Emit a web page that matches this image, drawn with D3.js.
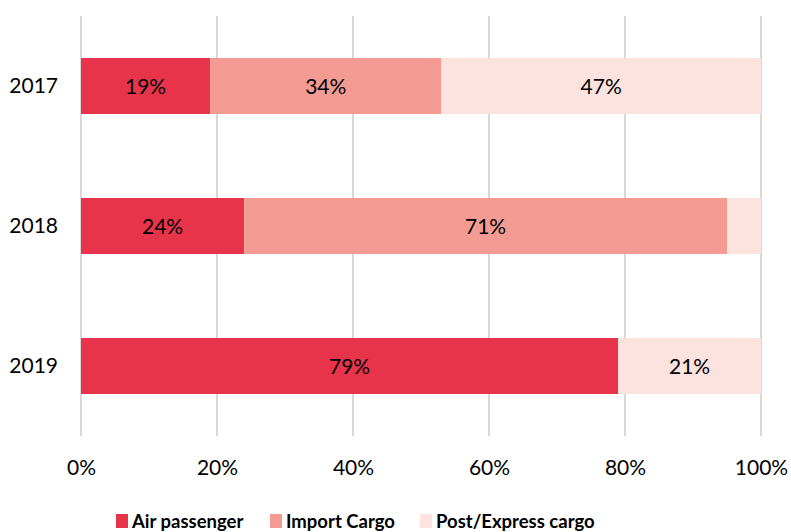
<!DOCTYPE html>
<html>
<head>
<meta charset="utf-8">
<script src="https://cdn.jsdelivr.net/npm/d3@7"></script>
<style>
  body { margin: 0; background: #fff; }
  svg text { font-family: Lato, "Open Sans", sans-serif; fill: #000; }
</style>
</head>
<body>
<svg id="chart" width="791" height="532"></svg>
<script>
// data
const years = ["2017", "2018", "2019"];
const seriesNames = ["Air passenger", "Import Cargo", "Post/Express cargo"];
const airPassenger = [19, 24, 79];
const importCargo = [34, 71, 0];
const postExpress = [47, 5, 21];
const xTicks = [0, 20, 40, 60, 80, 100];
const colors = ["#e8344a", "#f39b92", "#fce3df"];

let svg = d3.select("#chart"),
    plotLeft = 81, plotRight = 761, plotTop = 16, plotBottom = 436,
    fontSize = "21px";

let rows = years.map((y, i) => ({
    year: y,
    "Air passenger": airPassenger[i],
    "Import Cargo": importCargo[i],
    "Post/Express cargo": postExpress[i]
}));

let x = d3.scaleLinear().domain([0, 100]).range([plotLeft, plotRight]);
let y = d3.scaleBand().domain(years).range([plotTop, plotBottom])
    .paddingInner(0.6).paddingOuter(0.3);
let color = d3.scaleOrdinal().domain(seriesNames).range(colors);

// grid lines
svg.append("g").selectAll("line").data(xTicks).enter().append("line")
    .attr("x1", d => x(d)).attr("x2", d => x(d))
    .attr("y1", plotTop).attr("y2", plotBottom)
    .attr("stroke", "#d9d9d9").attr("stroke-width", 2);

// x labels
let xAxis = svg.append("g").attr("transform", "translate(0," + plotBottom + ")")
    .call(d3.axisBottom(x).tickValues(xTicks).tickFormat(d => d + "%").tickSize(0).tickPadding(24));
xAxis.select(".domain").remove();
xAxis.attr("font-family", null).attr("font-size", null);
xAxis.selectAll("text").style("font-size", fontSize);

// y labels
let yAxis = svg.append("g").attr("transform", "translate(" + plotLeft + ",0)")
    .call(d3.axisLeft(y).tickSize(0).tickPadding(23));
yAxis.select(".domain").remove();
yAxis.attr("font-family", null).attr("font-size", null);
yAxis.selectAll("text").style("font-size", fontSize);

// stacked bars
let stacked = d3.stack().keys(seriesNames)(rows);

let layers = svg.append("g").selectAll("g").data(stacked).enter().append("g")
    .attr("fill", d => color(d.key));

layers.selectAll("rect").data(d => d).enter().append("rect")
    .attr("x", d => x(d[0]))
    .attr("y", d => y(d.data.year))
    .attr("width", d => x(d[1]) - x(d[0]))
    .attr("height", y.bandwidth());

// value labels (small slices left unlabelled)
layers.selectAll("text").data(d => d.filter(v => v[1] - v[0] >= 10)).enter()
    .append("text")
    .attr("x", d => (x(d[0]) + x(d[1])) / 2)
    .attr("y", d => y(d.data.year) + y.bandwidth() / 2)
    .attr("text-anchor", "middle")
    .attr("dy", "0.36em")
    .style("font-size", fontSize)
    .text(d => (d[1] - d[0]) + "%");

// legend
let legendX = [116, 270, 420];
let legend = svg.append("g").selectAll("g").data(seriesNames).enter().append("g")
    .attr("transform", (d, i) => "translate(" + legendX[i] + ",514)");
legend.append("rect").attr("width", 12).attr("height", 14).attr("fill", d => color(d));
legend.append("text").attr("x", 16).attr("y", 14)
    .style("font-size", "18.5px").style("font-weight", "bold").text(d => d);
</script>
</body>
</html>
